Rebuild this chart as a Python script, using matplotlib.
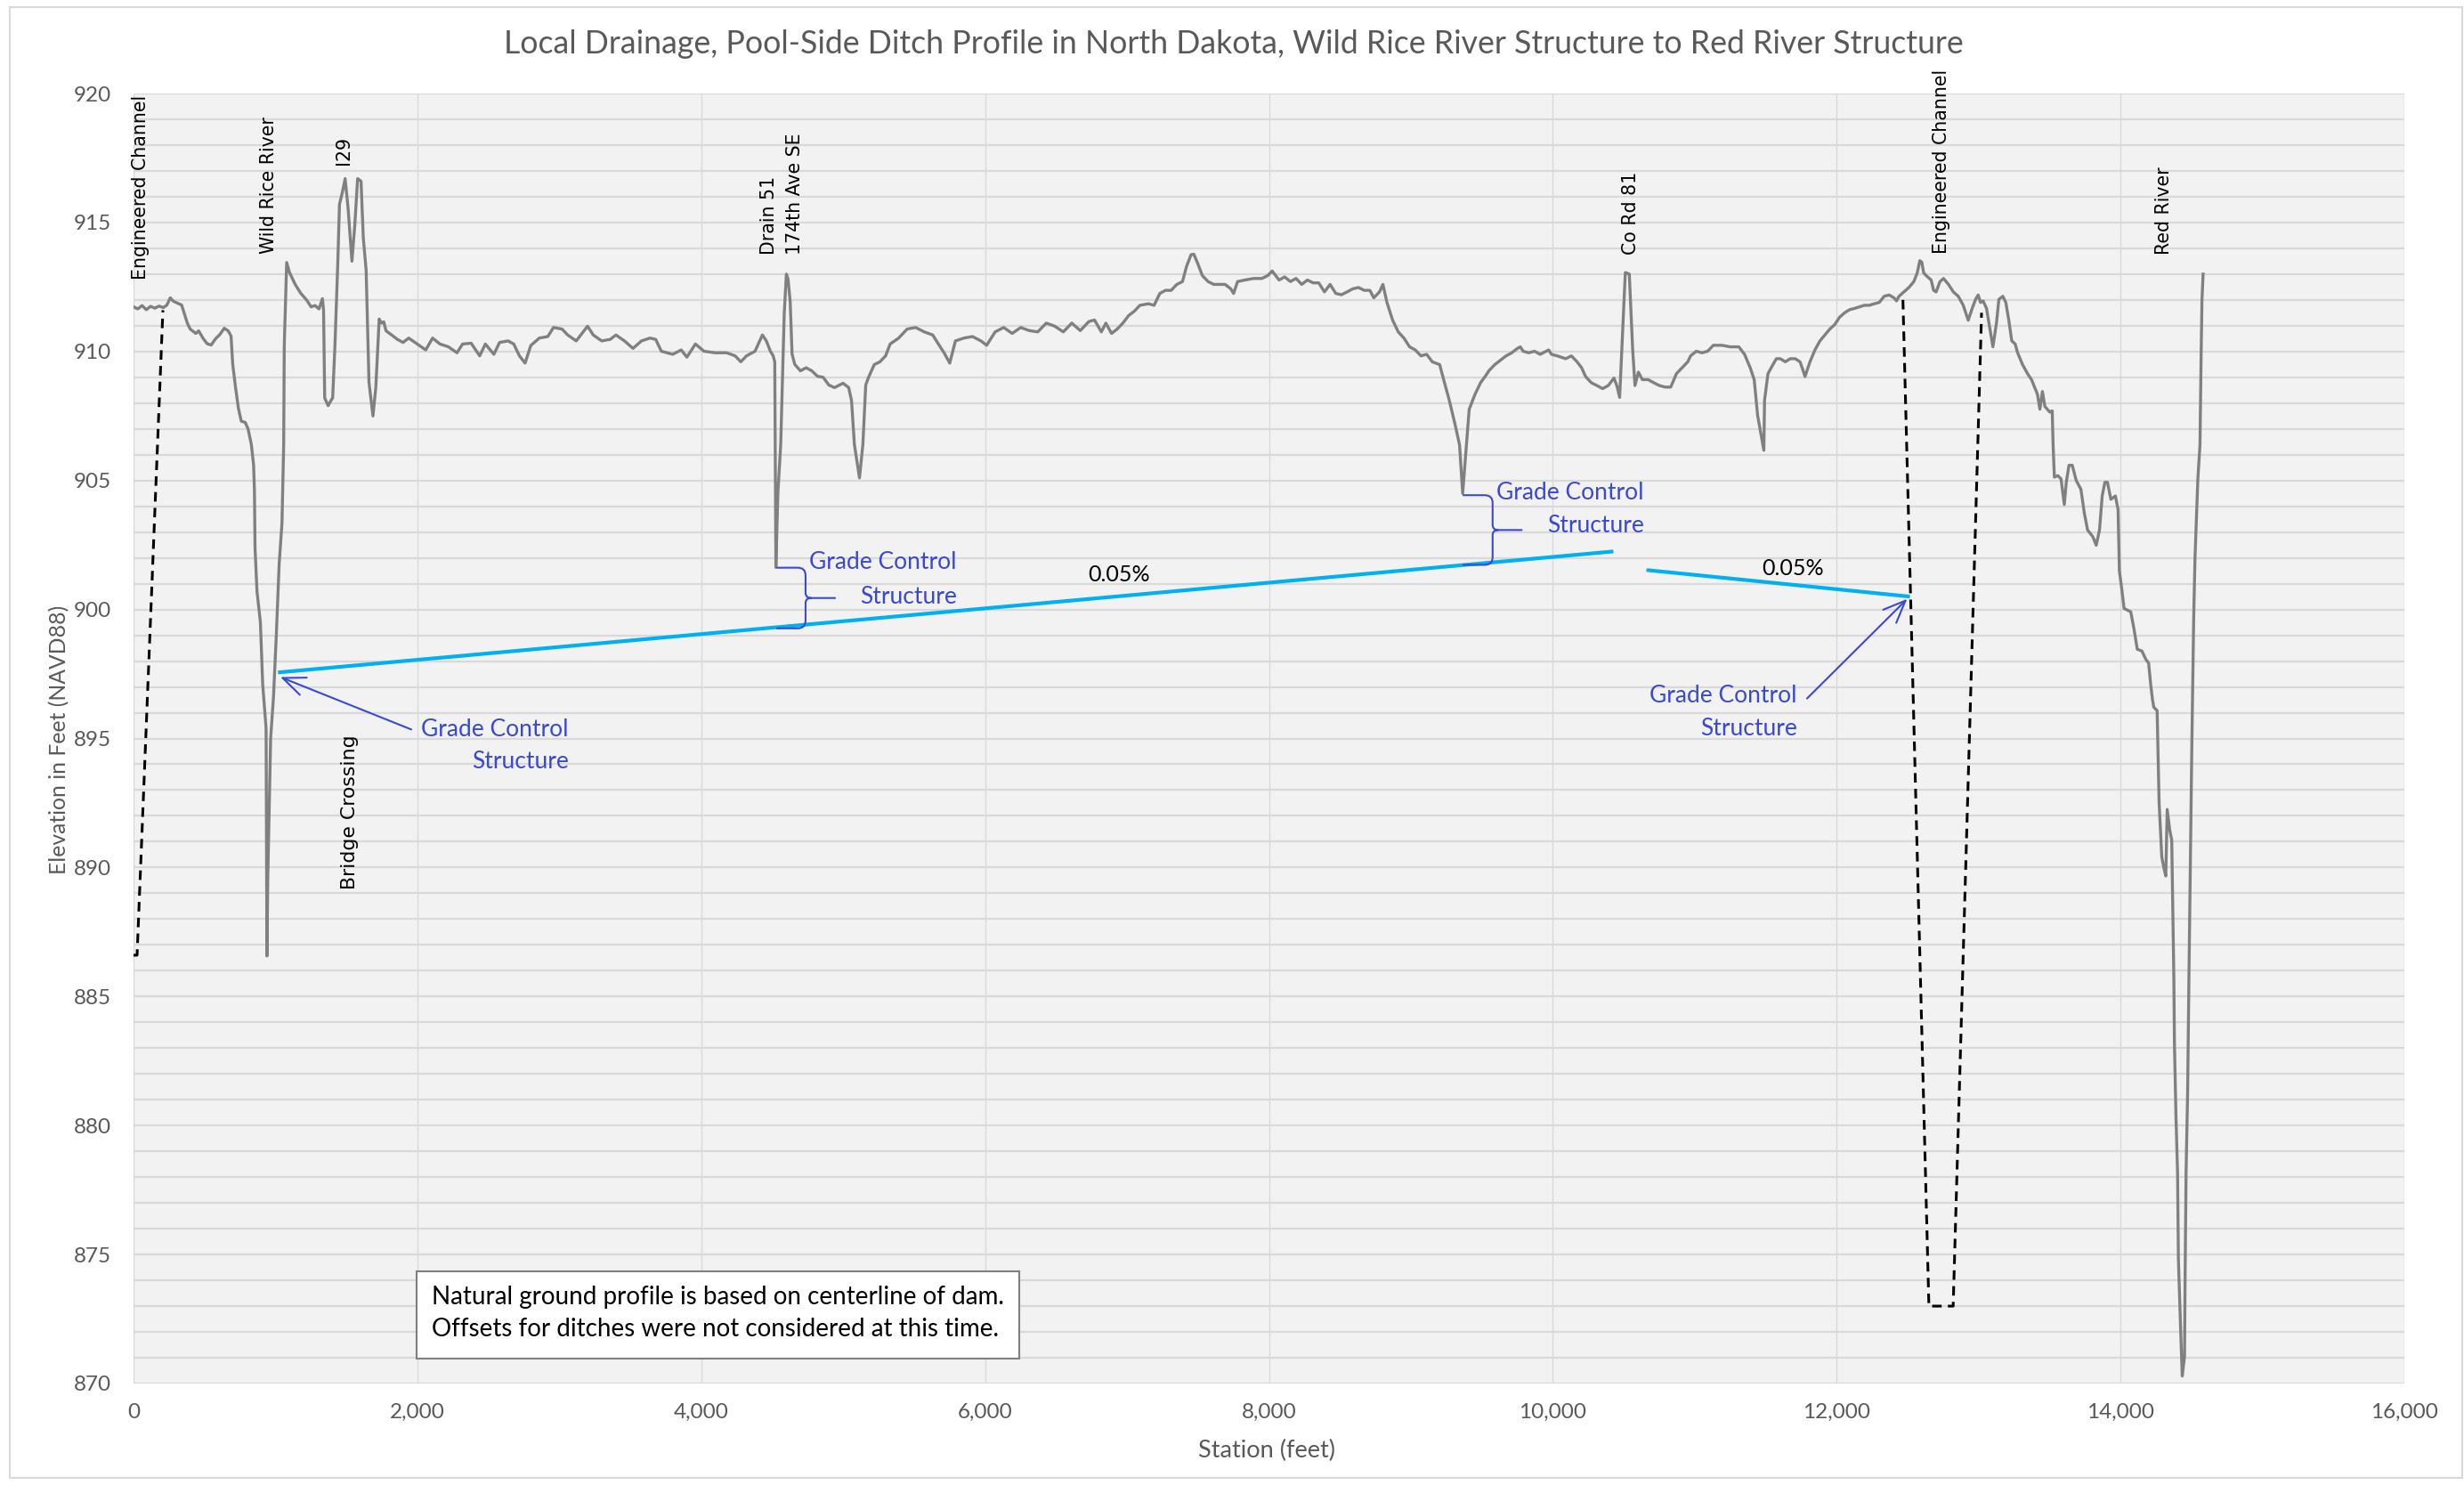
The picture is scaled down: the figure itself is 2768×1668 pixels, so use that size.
import matplotlib
matplotlib.use("Agg")
from matplotlib import pyplot as plt
from matplotlib.path import Path
from matplotlib.patches import PathPatch, Rectangle
from matplotlib.ticker import MultipleLocator

# ground profile along the dam centerline (station ft, elevation ft)
profile_station = [
    0, 30, 60, 90, 120, 150, 180, 210, 235, 259, 280, 299, 339, 379, 399, 439,
    459, 491, 519, 547, 579, 607, 639, 667, 687, 699, 719, 739, 759, 787, 807, 830,
    846, 852, 856, 870, 894, 910, 934, 940, 946, 966, 986, 1006, 1026, 1046, 1058, 1062,
    1079, 1099, 1139, 1179, 1219, 1251, 1279, 1307, 1331, 1339, 1347, 1371, 1391, 1403, 1419, 1439,
    1451, 1471, 1491, 1511, 1539, 1559, 1579, 1603, 1619, 1639, 1659, 1687, 1707, 1731, 1747, 1763,
    1779, 1819, 1859, 1899, 1939, 1999, 2059, 2107, 2159, 2219, 2279, 2319, 2379, 2439, 2479, 2539,
    2579, 2639, 2679, 2719, 2759, 2799, 2859, 2919, 2959, 3019, 3059, 3119, 3199, 3239, 3299, 3359,
    3399, 3459, 3519, 3579, 3639, 3679, 3719, 3799, 3859, 3899, 3959, 4019, 4099, 4179, 4239, 4279,
    4319, 4379, 4431, 4459, 4487, 4507, 4518, 4526, 4540, 4560, 4585, 4600, 4612, 4627, 4640, 4659,
    4699, 4739, 4779, 4819, 4859, 4899, 4939, 4999, 5039, 5059, 5079, 5115, 5139, 5159, 5179, 5219,
    5259, 5299, 5331, 5391, 5451, 5511, 5571, 5631, 5671, 5711, 5751, 5791, 5851, 5911, 5971, 6011,
    6071, 6131, 6191, 6251, 6311, 6371, 6431, 6491, 6551, 6611, 6671, 6731, 6771, 6819, 6851, 6891,
    6931, 6971, 7011, 7051, 7091, 7151, 7191, 7231, 7271, 7311, 7351, 7391, 7419, 7451, 7471, 7499,
    7531, 7571, 7611, 7651, 7691, 7731, 7751, 7779, 7831, 7891, 7951, 7991, 8023, 8071, 8111, 8151,
    8191, 8231, 8271, 8311, 8351, 8391, 8431, 8471, 8511, 8551, 8591, 8631, 8671, 8711, 8739, 8779,
    8803, 8831, 8871, 8911, 8951, 8991, 9031, 9071, 9111, 9151, 9203, 9231, 9271, 9311, 9343, 9365,
    9411, 9451, 9491, 9523, 9551, 9591, 9631, 9671, 9711, 9751, 9771, 9791, 9831, 9871, 9911, 9971,
    9991, 10031, 10091, 10131, 10171, 10203, 10231, 10271, 10311, 10351, 10391, 10431, 10451, 10471, 10511, 10539,
    10563, 10579, 10603, 10631, 10671, 10711, 10751, 10791, 10831, 10871, 10911, 10951, 10971, 11011, 11051, 11091,
    11131, 11191, 11251, 11311, 11351, 11391, 11419, 11443, 11487, 11492, 11516, 11551, 11575, 11603, 11638, 11673,
    11708, 11742, 11760, 11777, 11812, 11847, 11882, 11917, 11952, 11986, 12021, 12056, 12091, 12126, 12161, 12195,
    12230, 12265, 12300, 12335, 12370, 12404, 12422, 12439, 12474, 12509, 12544, 12568, 12586, 12600, 12613, 12631,
    12666, 12683, 12701, 12728, 12753, 12788, 12822, 12857, 12892, 12927, 12955, 12979, 12997, 13014, 13032, 13056,
    13101, 13126, 13143, 13171, 13192, 13213, 13234, 13258, 13275, 13310, 13345, 13373, 13415, 13432, 13450, 13467,
    13502, 13519, 13525, 13534, 13558, 13581, 13604, 13618, 13637, 13660, 13688, 13721, 13745, 13768, 13805, 13829,
    13852, 13871, 13890, 13908, 13932, 13964, 13983, 13992, 14011, 14025, 14072, 14095, 14118, 14151, 14179, 14198,
    14212, 14226, 14235, 14258, 14272, 14291, 14305, 14319, 14329, 14347, 14361, 14376, 14380, 14391, 14402, 14408,
    14424, 14435, 14451, 14455, 14462, 14473, 14482, 14502, 14516, 14525, 14545, 14560, 14568, 14574, 14582,
]
profile_elev = [
    911.73, 911.65, 911.78, 911.62, 911.75, 911.68, 911.76, 911.70, 911.80, 912.08, 911.95, 911.90, 911.80, 911.10, 910.87, 910.70,
    910.80, 910.50, 910.30, 910.25, 910.50, 910.65, 910.90, 910.80, 910.60, 909.50, 908.60, 907.80, 907.30, 907.25, 907.00, 906.40,
    905.60, 904.60, 902.40, 900.70, 899.50, 897.10, 895.40, 886.57, 889.60, 895.00, 896.60, 899.00, 901.75, 903.35, 906.40, 910.20,
    913.45, 913.06, 912.60, 912.25, 912.00, 911.73, 911.78, 911.65, 912.05, 911.60, 908.20, 907.90, 908.10, 908.20, 910.20, 913.40,
    915.70, 916.16, 916.70, 915.60, 913.50, 914.90, 916.70, 916.60, 914.40, 913.15, 908.80, 907.50, 908.60, 911.26, 911.10, 911.15,
    910.80, 910.64, 910.47, 910.35, 910.52, 910.29, 910.06, 910.52, 910.29, 910.18, 909.95, 910.29, 910.32, 909.83, 910.29, 909.89,
    910.35, 910.41, 910.29, 909.83, 909.55, 910.23, 910.52, 910.58, 910.93, 910.87, 910.64, 910.41, 910.98, 910.64, 910.41, 910.47,
    910.64, 910.41, 910.12, 910.41, 910.52, 910.47, 910.01, 909.89, 910.06, 909.78, 910.29, 910.01, 909.95, 909.95, 909.83, 909.60,
    909.83, 910.01, 910.64, 910.41, 910.01, 909.83, 909.60, 901.63, 904.50, 906.40, 911.50, 913.00, 912.80, 911.90, 909.90, 909.50,
    909.25, 909.37, 909.25, 909.04, 909.00, 908.70, 908.60, 908.77, 908.60, 908.10, 906.40, 905.10, 906.40, 908.70, 909.00, 909.49,
    909.60, 909.83, 910.29, 910.52, 910.87, 910.93, 910.76, 910.64, 910.29, 909.95, 909.55, 910.41, 910.52, 910.58, 910.41, 910.24,
    910.76, 910.93, 910.70, 910.93, 910.81, 910.76, 911.10, 910.98, 910.76, 911.10, 910.81, 911.16, 911.22, 910.76, 911.10, 910.70,
    910.87, 911.10, 911.39, 911.56, 911.79, 911.85, 911.79, 912.25, 912.37, 912.37, 912.60, 912.71, 913.29, 913.75, 913.77, 913.40,
    912.94, 912.71, 912.60, 912.60, 912.60, 912.43, 912.25, 912.71, 912.77, 912.83, 912.83, 912.94, 913.12, 912.77, 912.89, 912.71,
    912.83, 912.60, 912.77, 912.66, 912.66, 912.31, 912.60, 912.25, 912.20, 912.31, 912.43, 912.48, 912.37, 912.37, 912.08, 912.31,
    912.60, 911.91, 911.22, 910.76, 910.52, 910.18, 910.06, 909.83, 909.89, 909.60, 909.49, 908.91, 908.10, 907.18, 906.38, 904.50,
    907.76, 908.33, 908.79, 909.03, 909.26, 909.49, 909.66, 909.83, 909.95, 910.12, 910.18, 910.01, 909.95, 910.01, 909.89, 910.06,
    909.89, 909.83, 909.72, 909.83, 909.60, 909.37, 909.03, 908.79, 908.68, 908.56, 908.68, 908.97, 908.68, 908.22, 913.06, 913.00,
    910.06, 908.68, 909.20, 908.91, 908.91, 908.79, 908.68, 908.62, 908.62, 909.14, 909.37, 909.60, 909.83, 910.01, 909.95, 910.01,
    910.24, 910.24, 910.18, 910.18, 909.89, 909.37, 908.91, 907.53, 906.17, 908.11, 909.14, 909.49, 909.72, 909.72, 909.60, 909.72,
    909.72, 909.60, 909.32, 909.03, 909.60, 910.06, 910.41, 910.64, 910.87, 911.04, 911.33, 911.50, 911.62, 911.67, 911.73, 911.79,
    911.79, 911.85, 911.90, 912.14, 912.19, 912.08, 911.96, 912.14, 912.31, 912.48, 912.71, 913.05, 913.52, 913.46, 913.05, 912.94,
    912.77, 912.37, 912.31, 912.71, 912.83, 912.60, 912.31, 912.14, 911.79, 911.21, 911.67, 912.02, 912.19, 911.90, 911.96, 911.67,
    910.18, 911.10, 912.02, 912.14, 911.90, 911.21, 910.41, 910.29, 909.95, 909.49, 909.14, 908.91, 908.34, 907.76, 908.45, 907.87,
    907.65, 907.70, 906.38, 905.13, 905.19, 905.06, 904.07, 904.93, 905.59, 905.59, 905.00, 904.66, 903.74, 903.08, 902.82, 902.49,
    903.08, 904.40, 904.93, 904.93, 904.27, 904.40, 903.87, 901.50, 900.70, 900.04, 899.91, 899.25, 898.46, 898.39, 898.06, 897.93,
    897.13, 896.48, 896.21, 896.08, 892.51, 890.40, 890.00, 889.67, 892.25, 891.45, 891.06, 885.67, 883.17, 880.29, 878.17, 874.79,
    872.04, 870.29, 871.04, 874.04, 878.18, 881.29, 885.67, 894.49, 899.78, 902.02, 905.06, 906.38, 909.85, 912.00, 913.00,
]

# engineered channel sections (dashed)
ditch_left_station = [0, 25, 207]
ditch_left_elev = [886.6, 886.6, 911.6]
ditch_right_station = [12467, 12650, 12821, 13021]
ditch_right_elev = [912.0, 873.0, 873.0, 911.5]

# design grade lines at 0.05%
grade1_station = [1018, 10427]
grade1_elev = [897.56, 902.25]
grade2_station = [10660, 12516]
grade2_elev = [901.53, 900.50]
slope_labels = ["0.05%", "0.05%"]

# crossing labels (vertical text)
crossings = ["Engineered Channel", "Wild Rice River", "I29", "Drain 51", "174th Ave SE",
             "Co Rd 81", "Engineered Channel", "Red River"]
crossing_station = [50, 955, 1480, 4480, 4660, 10550, 12740, 14304]
crossing_base = [912.8, 913.8, 917.25, 913.75, 913.75, 913.75, 913.8, 913.75]

x_ticks = [0, 2000, 4000, 6000, 8000, 10000, 12000, 14000, 16000]
x_tick_labels = ["0", "2,000", "4,000", "6,000", "8,000", "10,000", "12,000", "14,000", "16,000"]
y_ticks = [870, 875, 880, 885, 890, 895, 900, 905, 910, 915, 920]

note_lines = ["Natural ground profile is based on centerline of dam.",
              "Offsets for ditches were not considered at this time."]

TXT = "#595959"
ANN = "#3a48d8"
CAL = ["Lato", "DejaVu Sans"]

fig = plt.figure(figsize=(27.68, 16.68), dpi=100)
ax = fig.add_axes([150 / 2768, 1 - 1554 / 1668, 2551 / 2768, 1449 / 1668])
ax.set_facecolor("#f2f2f2")
for s in ax.spines.values():
    s.set_visible(False)

ax.set_xlim(0, 16000)
ax.set_ylim(870, 920)
ax.set_xticks(x_ticks)
ax.set_xticklabels(x_tick_labels)
ax.set_yticks(y_ticks)
ax.yaxis.set_minor_locator(MultipleLocator(1))
ax.tick_params(which="both", length=0)
ax.tick_params(axis="x", pad=16, labelsize=17.5, labelcolor=TXT)
ax.tick_params(axis="y", pad=18, labelsize=17.5, labelcolor=TXT)
for lab in ax.get_xticklabels() + ax.get_yticklabels():
    lab.set_family(CAL)
ax.grid(axis="y", which="both", color="#d9d9d9", lw=1.6, zorder=0)
ax.grid(axis="x", which="major", color="#d9d9d9", lw=1.0, zorder=0)
ax.set_axisbelow(True)

ax.plot(profile_station, profile_elev, color="#808080", lw=2.4, zorder=3)
ax.plot(ditch_left_station, ditch_left_elev, color="black", lw=2.2, ls=(0, (3.5, 2.3)), zorder=4)
ax.plot(ditch_right_station, ditch_right_elev, color="black", lw=2.2, ls=(0, (3.5, 2.3)), zorder=4)
ax.plot(grade1_station, grade1_elev, color="#00b0f0", lw=3.0, solid_capstyle="butt", zorder=5)
ax.plot(grade2_station, grade2_elev, color="#00b0f0", lw=3.0, solid_capstyle="butt", zorder=5)

ax.text(6944, 901.35, slope_labels[0], family=CAL, fontsize=18, color="black", ha="center", va="center")
ax.text(11689, 901.6, slope_labels[1], family=CAL, fontsize=18, color="black", ha="center", va="center")

for name, xs, yb in zip(crossings, crossing_station, crossing_base):
    ax.text(xs, yb, name, rotation=90, ha="center", va="bottom", fontsize=14.8,
            family="DejaVu Sans", color="black", zorder=6)
ax.text(1522, 889.15, "Bridge Crossing", rotation=90, ha="center", va="bottom",
        fontsize=15.8, family="DejaVu Sans", color="black", zorder=6)


def brace(x_left, x_spine, x_tip, y_top, y_bot):
    rx, ry, tx, ty = 55, 0.3, 40, 0.2
    ym = (y_top + y_bot) / 2
    M, L, C = Path.MOVETO, Path.LINETO, Path.CURVE3
    verts = [(x_left, y_top), (x_spine - rx, y_top), (x_spine, y_top), (x_spine, y_top - ry),
             (x_spine, ym + ty), (x_spine, ym), (x_spine + tx, ym), (x_tip, ym),
             (x_spine + tx, ym), (x_spine, ym), (x_spine, ym - ty),
             (x_spine, y_bot + ry), (x_spine, y_bot), (x_spine - rx, y_bot), (x_left, y_bot)]
    codes = [M, L, C, C, L, C, C, L, M, C, C, L, C, C, L]
    ax.add_patch(PathPatch(Path(verts, codes), fill=False, edgecolor=ANN, lw=1.5, zorder=6))


def gcs_label(x_right, y1, y2):
    ax.text(x_right, y1, "Grade Control", ha="right", va="center", family=CAL,
            fontsize=19, color=ANN, zorder=7)
    ax.text(x_right, y2, "Structure", ha="right", va="center", family=CAL,
            fontsize=19, color=ANN, zorder=7)


brace(4530, 4735, 4948, 901.62, 899.27)
brace(9365, 9576, 9786, 904.43, 901.73)
gcs_label(3067, 895.35, 894.1)
gcs_label(5799, 901.83, 900.5)
gcs_label(10643, 904.52, 903.24)
gcs_label(11722, 896.65, 895.37)

arrow = dict(arrowstyle="->,head_length=0.6,head_width=0.25", color=ANN, lw=1.5,
             mutation_scale=30, shrinkA=0, shrinkB=0)
ax.annotate("", xy=(1035, 897.38), xytext=(1957, 895.35), arrowprops=arrow, zorder=7)
ax.annotate("", xy=(12497, 900.41), xytext=(11791, 896.55), arrowprops=arrow, zorder=7)

ax.add_patch(Rectangle((1994, 870.97), 6241 - 1994, 874.35 - 870.97, facecolor="white",
                       edgecolor="#7f7f7f", lw=1.5, zorder=8))
ax.text(2101, 873.35, note_lines[0], family=CAL, fontsize=20, color="black", va="center", zorder=9)
ax.text(2101, 872.1, note_lines[1], family=CAL, fontsize=20, color="black", va="center", zorder=9)

fig.text(1386 / 2768, 1 - 49 / 1668,
         "Local Drainage, Pool-Side Ditch Profile in North Dakota, Wild Rice River Structure to Red River Structure",
         ha="center", va="center", fontsize=25.7, color=TXT, family=CAL)
fig.text(1423 / 2768, 1 - 1629 / 1668, "Station (feet)", ha="center", va="center",
         fontsize=19.5, color=TXT, family=CAL)
fig.text(67 / 2768, 1 - 831 / 1668, "Elevation in Feet (NAVD88)", ha="center", va="center",
         rotation=90, fontsize=17.8, color=TXT, family=CAL)

fig.patches.append(Rectangle((11 / 2768, 8 / 1668), 2755 / 2768, 1652 / 1668, transform=fig.transFigure,
                             fill=False, edgecolor="#d9d9d9", lw=1.5))

fig.savefig("out.png", dpi=100, facecolor="white")
